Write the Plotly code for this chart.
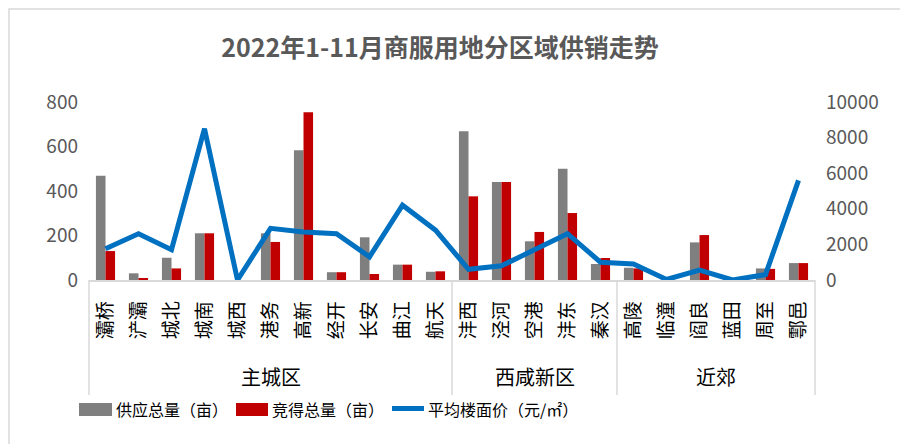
import plotly.graph_objects as go

# data
group_names = ["主城区", "西咸新区", "近郊"]
group_sizes = [11, 5, 6]
districts = ["灞桥", "浐灞", "城北", "城南", "城西", "港务", "高新", "经开", "长安", "曲江", "航天",
             "沣西", "泾河", "空港", "沣东", "秦汉",
             "高陵", "临潼", "阎良", "蓝田", "周至", "鄠邑"]
supply = [468, 30, 100, 210, 0, 210, 583, 35, 192, 69, 37,
          669, 440, 174, 500, 72,
          55, 0, 169, 0, 52, 76]
sold = [130, 8, 52, 210, 0, 171, 754, 35, 27, 69, 39,
        376, 440, 216, 301, 99,
        52, 0, 202, 0, 50, 76]
avg_price = [1750, 2600, 1700, 8500, 0, 2900, 2700, 2600, 1300, 4200, 2800,
             600, 800, 1700, 2600, 1000,
             900, 30, 550, 0, 300, 5600]

title_text = "2022年1-11月商服用地分区域供销走势"
legend_names = ["供应总量（亩）", "竞得总量（亩）", "平均楼面价（元/㎡）"]

GRAY = "#7f7f7f"
RED = "#c00000"
BLUE = "#0070c0"
TXT = "#595959"
AXIS = "#d9d9d9"
FONT = "Noto Sans CJK SC"

# the page puts the figure 8px in from the window corner
OFF = 8
W, H = 900, 436
L, R, T, B = 81, 93, 94, 164


def px_x(p):
    # window pixel -> paper x
    return (p - OFF - L) / (W - L - R)


def px_y(p):
    # window pixel -> paper y
    return (H - B - (p - OFF)) / (H - B - T)


fig = go.Figure()
fig.add_trace(go.Bar(x=districts, y=supply, name=legend_names[0], marker=dict(color=GRAY, line_width=0)))
fig.add_trace(go.Bar(x=districts, y=sold, name=legend_names[1], marker=dict(color=RED, line_width=0)))
fig.add_trace(go.Scatter(x=districts, y=avg_price, name=legend_names[2], yaxis="y2", mode="lines",
                         line=dict(color=BLUE, width=5)))

fig.update_layout(
    width=W, height=H,
    margin=dict(l=L, r=R, t=T, b=B),
    paper_bgcolor="white", plot_bgcolor="white",
    font=dict(family=FONT, color=TXT),
    showlegend=False,
    barmode="group", bargap=0.42, bargroupgap=0,
    title=dict(text="<b>" + title_text + "</b>", x=(440 - OFF) / W, xref="container", xanchor="center",
               y=1 - (48 - OFF) / H, yref="container", yanchor="middle",
               font=dict(size=25, color=TXT, family=FONT)),
    xaxis=dict(type="category", showline=True, linecolor=AXIS, linewidth=1.5, showgrid=False,
               tickangle=-90, tickfont=dict(size=19, color="#000000"),
               ticks="outside", ticklen=12, tickcolor="rgba(0,0,0,0)"),
    yaxis=dict(range=[0, 800], dtick=200, showgrid=False, zeroline=False,
               tickfont=dict(size=19, color=TXT), ticks="", ticklabelstandoff=10),
    yaxis2=dict(range=[0, 10000], dtick=2000, overlaying="y", side="right", showgrid=False,
                zeroline=False, tickformat="d", tickfont=dict(size=19, color=TXT), ticks="",
                ticklabelstandoff=10),
)

# chart frame (only its left and top edges show in the window)
fig.add_shape(type="rect", xref="paper", yref="paper", x0=px_x(9), x1=px_x(930),
              y0=px_y(460), y1=px_y(9), line=dict(color=AXIS, width=1.5),
              fillcolor="rgba(0,0,0,0)", layer="below")

# group dividers and group labels under the category labels
n = len(districts)
start = 0
for gname, size in zip(group_names, group_sizes):
    fig.add_shape(type="line", xref="paper", yref="paper", x0=start / n, x1=start / n,
                  y0=0, y1=px_y(395), line=dict(color=AXIS, width=1.5))
    fig.add_annotation(text=gname, xref="paper", yref="paper", x=(start + size / 2) / n, y=px_y(376),
                       xanchor="center", yanchor="middle", showarrow=False,
                       font=dict(size=20, color="#000000", family=FONT))
    start += size
fig.add_shape(type="line", xref="paper", yref="paper", x0=1, x1=1, y0=0, y1=px_y(395),
              line=dict(color=AXIS, width=1.5))

# legend drawn by hand to get the wide swatches
fig.add_shape(type="rect", xref="paper", yref="paper", x0=px_x(79), x1=px_x(112),
              y0=px_y(416), y1=px_y(403), fillcolor=GRAY, line_width=0)
fig.add_shape(type="rect", xref="paper", yref="paper", x0=px_x(236), x1=px_x(268),
              y0=px_y(416), y1=px_y(403), fillcolor=RED, line_width=0)
fig.add_shape(type="line", xref="paper", yref="paper", x0=px_x(392), x1=px_x(424),
              y0=px_y(408.5), y1=px_y(408.5), line=dict(color=BLUE, width=5))
for name, px0 in zip(legend_names, [114, 270, 426]):
    fig.add_annotation(text=name, xref="paper", yref="paper", x=px_x(px0), y=px_y(409),
                       xanchor="left", yanchor="middle", showarrow=False,
                       font=dict(size=16, color="#000000", family=FONT))

fig.write_html("out.html")
